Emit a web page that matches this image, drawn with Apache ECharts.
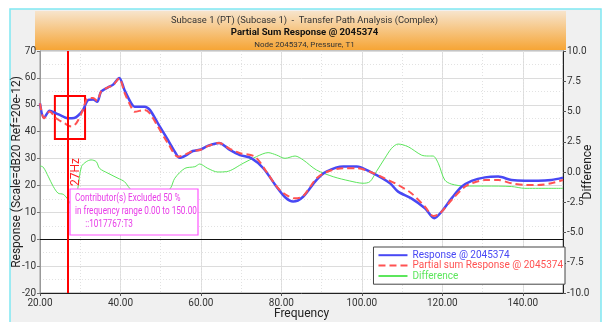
<!DOCTYPE html>
<html><head><meta charset="utf-8">
<script src="https://cdn.jsdelivr.net/npm/echarts@6/dist/echarts.min.js"></script>
<style>html,body{margin:0;padding:0;background:#fff;}#c{width:609px;height:322px;}</style>
</head><body><div id="c"></div>
<script>
// ---- data ----
const respFreq = [20,21,22.4,24,25.5,27,28.5,29.5,30.7,32,33.2,34.2,35.2,36.9,38.1,39.7,41,42.7,43.5,46,47.3,49.3,51.8,53.5,54.7,56.4,58,60,61.7,64.5,67.2,69.7,72.6,75.5,78.8,81,82.9,85.4,88.7,91.2,95.4,98.7,102,107,109,112.3,115.7,118,119.8,122.3,124.8,127.3,130.6,133.9,137.2,140.5,143.8,147.1,150];
const respVals = [50.5,45.1,47.8,46.8,45.8,45.0,45.1,46.0,48.1,51.8,52,51.1,54.9,56.5,57.4,60,55.5,50.5,49.3,49.3,48.1,43.1,36.9,32.6,30.3,31.3,32.8,33.4,34.7,35.8,33.2,31.3,30.1,26.4,19.5,15.5,14,15.8,22,25.1,27,27,25.1,20.8,17.7,15.2,11.5,7.8,10.2,15.2,19.5,21.7,23,23.3,22,21.7,21.7,22,22.9];
const partFreq = [20,21,22.4,24,26.1,27.8,29,30.3,32,33.2,34.2,35.2,36.9,38.1,39.7,41,42.7,43.5,46,47.3,49.3,51.8,54.3,56.4,58,60,61.7,64.5,67.2,69.7,73.4,76.3,79.6,83.4,85.4,88.7,91.2,95.4,98.7,102,105.7,109,112.3,115.7,117.8,119.4,122.3,125.6,127.3,130.6,133.9,137.2,140.5,143.8,147.1,150];
const partVals = [50.5,45,47.5,45,43.1,41.9,43.1,46.8,52.5,52.5,51.5,55,56.5,57.2,59.8,54.5,49,47.4,48.1,46.8,41.9,35.7,30.7,31.7,32.8,33.3,34.6,35.8,33.6,32,30.7,25.1,18.3,15.2,16,22.6,25,26.4,26.4,25.1,22.6,20.2,17.1,12.1,8.6,9.6,14.6,19.5,20.8,22,22,20.8,20.2,20.2,20.8,22];
const diffFreq = [20,20.8,22.1,23.3,24.5,25.8,27,28.2,29.4,30.3,31.5,32.7,34,34.8,36.9,39.4,41,42.3,44.5,47,50,52.5,53.5,56,58.5,59.7,61.7,64.2,66.4,70.5,73.8,76.7,78.8,80.9,83.4,85.4,88.7,92.9,97,100.3,102,103.6,105.7,107.4,109,111.5,114.8,116.5,117.7,119,120.6,122.3,125.6,130.6,137.2,140.5,150];
const diffVals = [0.5,0.4,-0.4,-1.2,-1.75,-1.85,-2.3,-3.0,-1.35,0.44,0.85,1.0,0.85,0.3,-0.1,-0.52,-0.8,-1.35,-2.0,-2.4,-2.2,-1.3,-0.52,0.3,0.44,0.66,0.3,0.0,0.03,0.72,1.27,1.6,1.4,1.13,1.32,1.0,0.17,-0.39,-0.74,-0.93,-0.8,0.03,1.13,1.96,2.31,2.09,1.4,1.32,1.32,0.72,-0.66,-1.0,-1.16,-1.16,-1.2,-1.35,-1.35];
const cursorFreq = 27;
const cursorLabel = '27Hz';
const focusBox = [[23.7, 53.3], [31.2, 37.3]];
const seriesNames = ['Response @ 2045374', 'Partial sum Response @ 2045374', 'Difference'];
const titleLines = ['Subcase 1 (PT) (Subcase 1)  -  Transfer Path Analysis (Complex)', 'Partial Sum Response @ 2045374', 'Node 2045374, Pressure, T1'];
const noteLines = ['Contributor(s) Excluded 50 %', 'in frequency range 0.00 to 150.00', '     ::1017767:T3'];
const xMin = 20, xMax = 150, yMin = -20, yMax = 70, dMin = -10, dMax = 10;

const FONT = '"Liberation Sans Narrow", Roboto, sans-serif';
const zip = (a, b) => a.map((x, i) => [x, b[i]]);
const chart = echarts.init(document.getElementById('c'), null, {renderer: 'canvas'});
const colors = ['#4848f4', '#ff5252', '#5ce65c'];

chart.setOption({
  animation: false,
  textStyle: {fontFamily: FONT},
  title: {
    text: '{a|' + titleLines[0] + '}\n{b|' + titleLines[1] + '}\n{c|' + titleLines[2] + '}',
    left: 'center', top: 9,
    textStyle: {fontWeight: 'normal', rich: {
      a: {fontSize: 9.4, fontWeight: 'normal', color: '#333', lineHeight: 12.5, fontFamily: FONT},
      b: {fontSize: 9.6, fontWeight: 'bold', color: '#111', lineHeight: 12.5, fontFamily: FONT},
      c: {fontSize: 8, fontWeight: 'normal', color: '#333', lineHeight: 12, fontFamily: FONT}
    }}
  },
  graphic: [
    {type: 'rect', z: -10, silent: true, shape: {x: 10, y: 9, width: 591, height: 330},
     style: {fill: '#f0f0f0', stroke: '#7fe8f2', lineWidth: 1.5}},
    {type: 'rect', z: -9, silent: true, shape: {x: 35, y: 11, width: 531, height: 39},
     style: {fill: new echarts.graphic.LinearGradient(0, 0, 0, 1, [
       {offset: 0, color: '#f7e4cc'}, {offset: 1, color: '#f6a535'}])}},
    {type: 'rect', z: 100, silent: true, shape: {x: 70, y: 189, width: 128, height: 46},
     style: {fill: '#ffffff', stroke: '#ff55ff', lineWidth: 1.2}},
    {type: 'text', z: 101, silent: true, x: 75, y: 192.5, scaleX: 0.82,
     style: {text: noteLines.join('\n'), fill: '#e83ce8', font: '10px "Liberation Sans Narrow", Roboto, sans-serif',
             fontFamily: FONT, fontSize: 10, lineHeight: 12.8}}
  ],
  legend: {
    orient: 'vertical', right: 44, top: 247,
    backgroundColor: '#fff', borderColor: '#444', borderWidth: 1,
    padding: [3, 2, 3, 4], itemGap: 0, itemWidth: 29, itemHeight: 13,
    itemStyle: {opacity: 0},
    textStyle: {fontSize: 10, fontFamily: FONT},
    data: seriesNames.map((n, i) => ({name: n, textStyle: {color: colors[i]}}))
  },
  grid: {left: 40, right: 46, top: 51, bottom: 29, containLabel: false, outerBoundsMode: 'none',
         show: true, borderColor: '#999', borderWidth: 1, backgroundColor: '#fff'},
  xAxis: [
    {type: 'value', min: xMin, max: xMax, interval: 20,
     name: 'Frequency', nameLocation: 'middle', nameGap: 15, nameMoveOverlap: false,
     nameTextStyle: {fontSize: 12, color: '#222'},
     axisLine: {onZero: false, lineStyle: {color: '#222'}},
     axisTick: {show: true, length: 3, lineStyle: {color: '#555'}},
     axisLabel: {fontSize: 10, color: '#333', margin: 5, showMaxLabel: false, formatter: v => v.toFixed(2)},
     splitLine: {show: true, lineStyle: {color: '#dcdcdc', width: 1}}},
    {type: 'value', min: xMin, max: xMax, interval: 10, position: 'bottom',
     axisLine: {show: false}, axisTick: {show: false}, axisLabel: {show: false},
     splitLine: {show: true, lineStyle: {color: '#e2e2e2', type: [1, 2]}}}
  ],
  yAxis: [
    {type: 'value', min: yMin, max: yMax, interval: 10,
     name: 'Response (Scale=dB20 Ref=20e-12)', nameLocation: 'middle', nameGap: 17, nameMoveOverlap: false,
     nameTextStyle: {fontSize: 12, color: '#222'},
     axisLine: {show: true, lineStyle: {color: '#999'}},
     axisTick: {show: true, length: 3, lineStyle: {color: '#777'}},
     axisLabel: {fontSize: 10, color: '#333', margin: 4},
     splitLine: {show: true, lineStyle: {color: '#dcdcdc'}},
     minorTick: {show: false, splitNumber: 2},
     minorSplitLine: {show: true, lineStyle: {color: '#e2e2e2', type: [1, 2]}}},
    {type: 'value', min: dMin, max: dMax, interval: 2.5, position: 'right',
     name: 'Difference', nameLocation: 'middle', nameGap: 19, nameMoveOverlap: false,
     nameTextStyle: {fontSize: 12, color: '#222'},
     axisLine: {show: true, lineStyle: {color: '#222'}},
     axisTick: {show: true, length: 3, lineStyle: {color: '#555'}},
     axisLabel: {fontSize: 10, color: '#333', margin: 4, formatter: v => v.toFixed(1)},
     splitLine: {show: false}}
  ],
  series: [
    {name: seriesNames[2], type: 'line', yAxisIndex: 1, data: zip(diffFreq, diffVals), smooth: 0.3,
     symbol: 'none', lineStyle: {color: colors[2], width: 1}, itemStyle: {color: colors[2]}, z: 2},
    {name: seriesNames[0], type: 'line', data: zip(respFreq, respVals), smooth: 0.3,
     symbol: 'none', lineStyle: {color: colors[0], width: 2.5}, itemStyle: {color: colors[0]}, z: 3,
     markLine: {silent: true, symbol: 'none', animation: false,
       data: [
         {yAxis: 0, lineStyle: {color: '#111', width: 1, type: 'solid'}, label: {show: false}},
         {xAxis: cursorFreq, lineStyle: {color: '#ff0000', width: 2, type: 'solid'},
          label: {show: true, formatter: cursorLabel, position: 'insideMiddleBottom', color: '#ff2020', fontSize: 12, distance: 2}}
       ]},
     markArea: {silent: true, itemStyle: {color: 'rgba(0,0,0,0)', borderColor: '#ff0000', borderWidth: 2},
       data: [[{coord: focusBox[0]}, {coord: focusBox[1]}]]}},
    {name: seriesNames[1], type: 'line', data: zip(partFreq, partVals), smooth: 0.3,
     symbol: 'none', lineStyle: {color: colors[1], width: 2, type: [7, 4]}, itemStyle: {color: colors[1]}, z: 4}
  ]
});
</script></body></html>
